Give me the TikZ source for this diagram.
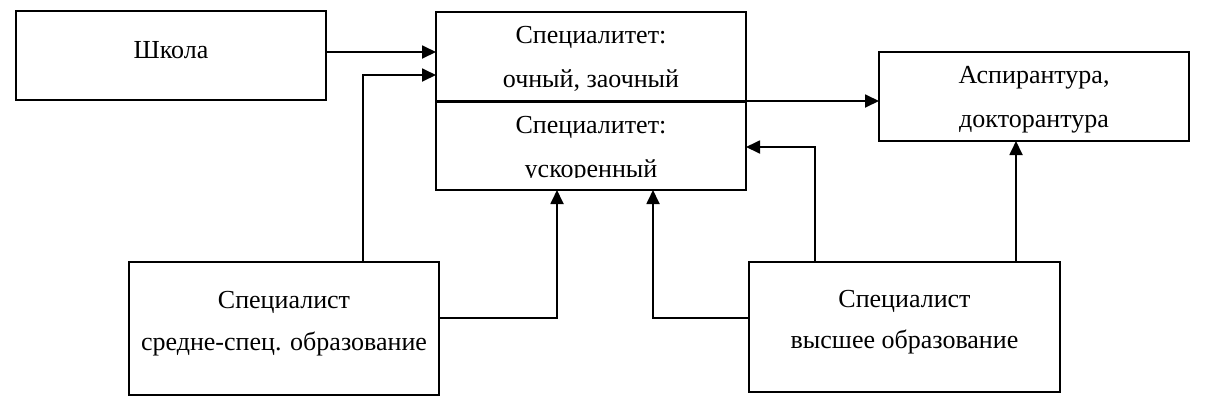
\documentclass[tikz,border=0pt]{standalone}
\usepackage{fontspec}
\setmainfont{Liberation Serif}
\usetikzlibrary{arrows.meta}
\begin{document}
\begin{tikzpicture}[x=1pt,y=-1pt,
  box/.style={draw, line width=1.8pt, inner sep=0pt, outer sep=0pt, minimum width=310pt},
  txt/.style={anchor=base, font=\fontsize{26}{30}\selectfont, inner sep=0pt},
  arr/.style={line width=1.8pt, -{Triangle[length=14pt,width=13pt]}}]
\useasboundingbox (0,0) rectangle (1206,408);
% boxes
\node[box, minimum height=89pt] (school) at (171,55.5) {};
\node[box, minimum height=178pt] (main) at (591,101) {};
\node[box, minimum height=89pt] (asp) at (1034,96.5) {};
\node[box, minimum height=133pt] (ss) at (284,328.5) {};
\node[box, minimum width=311pt, minimum height=130pt] (he) at (904.5,327) {};
\draw[line width=3pt] (main.west) -- (main.east);
% texts
\node[txt] (tschool) at (171,58) {Школа};
\node[txt] (tm1) at (591,43) {Специалитет:};
\node[txt] (tm2) at (591,87) {очный, заочный};
\node[txt] (tm3) at (591,133) {Специалитет:};
\begin{scope}
\clip (437,140) rectangle (745,177.5);
\node[txt] (tm4) at (591,177) {ускоренный};
\end{scope}
\node[txt] (ta1) at (1034,83) {Аспирантура,};
\node[txt] (ta2) at (1034,127) {докторантура};
\node[txt] (ts1) at (284,308) {Специалист};
\node[txt] (ts2) at (284,350) {средне-спец. образование};
\node[txt] (th1) at (904.5,307) {Специалист};
\node[txt] (th2) at (904.5,348) {высшее образование};
% junction coordinates
\coordinate (j0) at (326,52);
\coordinate (j1) at (363,75);
\coordinate (j2) at (557,318);
\coordinate (j3) at (653,318);
\coordinate (j4) at (815,147);
\coordinate (j5) at (1016,200);
% connectors
\draw[arr] (j0 -| school.east) -- (j0 -| main.west);
\draw[arr] (j1 |- ss.north) |- (j1 -| main.west);
\draw[arr] (j2 -| ss.east) -| (j2 |- main.south);
\draw[arr] (j3 -| he.west) -| (j3 |- main.south);
\draw[arr] (j4 |- he.north) |- (j4 -| main.east);
\draw[arr] (j5 |- he.north) -- (j5 |- asp.south);
\draw[arr] (main.east) -- (main.east -| asp.west);
\end{tikzpicture}
\end{document}
